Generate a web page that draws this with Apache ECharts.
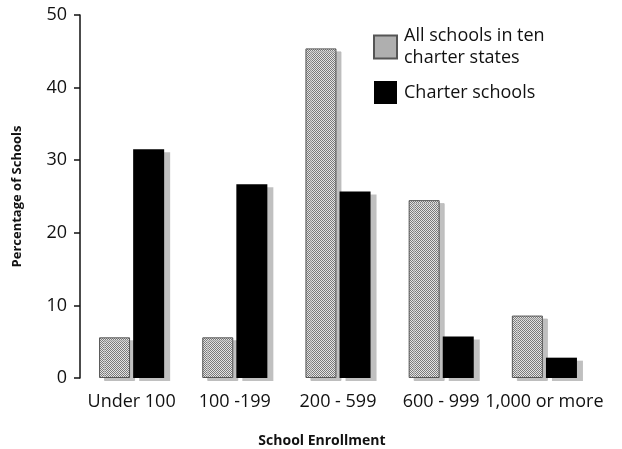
<!DOCTYPE html>
<html>
<head>
<meta charset="utf-8">
<script src="https://cdn.jsdelivr.net/npm/echarts@6/dist/echarts.min.js"></script>
<style>
	html, body { margin: 0; padding: 0; background: #fff; }
	#chart { width: 622px; height: 449px; }
</style>
</head>
<body>
<div id="chart"></div>
<script>
let categories = ['Under 100', '100 -199', '200 - 599', '600 - 999', '1,000 or more']
let allSchools = [5.6, 5.6, 45.4, 24.5, 8.6]
let charterSchools = [31.5, 26.7, 25.7, 5.7, 2.8]
let yTicks = [0, 10, 20, 30, 40, 50]

// dithered grey like the printed figure
function makePattern() {
	let c = document.createElement('canvas')
	c.width = 4
	c.height = 4
	let ctx = c.getContext('2d')
	ctx.fillStyle = '#e4e4e4'
	ctx.fillRect(0, 0, 4, 4)
	ctx.fillStyle = '#7a7a7a'
	for (let y = 0; y < 4; y++) {
		for (let x = 0; x < 4; x++) {
			if ((x + y) % 2 == 0) ctx.fillRect(x, y, 1, 1)
		}
	}
	return c
}
let grey = { image: makePattern(), repeat: 'repeat' }

let chart = echarts.init(document.getElementById('chart'))
let font = 'Open Sans'

let option = {
	animation: false,
	grid: { left: 80, right: 26, top: 15, bottom: 71, outerBoundsMode: 'none', containLabel: false },
	legend: {
		orient: 'vertical',
		left: 368,
		top: 20,
		icon: 'rect',
		itemWidth: 23,
		itemHeight: 23,
		itemGap: 12,
		textStyle: { fontFamily: font, fontSize: 18, color: '#111', lineHeight: 22, padding: [0, 0, 0, 2] },
		data: ['All schools in ten\ncharter states', 'Charter schools']
	},
	xAxis: {
		type: 'category',
		data: categories,
		name: 'School Enrollment',
		nameLocation: 'middle',
		nameGap: 56,
		nameTextStyle: { fontFamily: font, fontSize: 14, fontWeight: 'bold', color: '#111', padding: [0, 32, 0, 0] },
		axisLine: { show: false },
		axisTick: { show: false },
		axisLabel: { fontFamily: font, fontSize: 18, color: '#111', margin: 15, interval: 0 }
	},
	yAxis: {
		type: 'value',
		min: 0,
		max: 50,
		interval: 10,
		name: 'Percentage of Schools',
		nameLocation: 'middle',
		nameGap: 56,
		nameTextStyle: { fontFamily: font, fontSize: 13, fontWeight: 'bold', color: '#111' },
		axisLine: { show: true, lineStyle: { color: '#111', width: 1.5 } },
		axisTick: { show: true, length: 6, lineStyle: { color: '#111', width: 1.5 } },
		splitLine: { show: false },
		axisLabel: {
			fontFamily: font, fontSize: 18, color: '#111', margin: 13,
			formatter: function(v) { return yTicks.indexOf(v) >= 0 ? v : '' }
		}
	},
	series: [{
			name: 'All schools in ten\ncharter states',
			type: 'bar',
			data: allSchools,
			barWidth: 31,
			barGap: '10%',
			itemStyle: {
				color: grey,
				borderColor: '#555',
				borderWidth: 1,
				shadowColor: 'rgba(185,185,185,0.9)',
				shadowOffsetX: 5,
				shadowOffsetY: 3,
				shadowBlur: 0
			}
		},
		{
			name: 'Charter schools',
			type: 'bar',
			data: charterSchools,
			barWidth: 31,
			itemStyle: {
				color: '#000',
				shadowColor: 'rgba(185,185,185,0.9)',
				shadowOffsetX: 6,
				shadowOffsetY: 3,
				shadowBlur: 0
			}
		}
	]
}

chart.setOption(option)
</script>
</body>
</html>
